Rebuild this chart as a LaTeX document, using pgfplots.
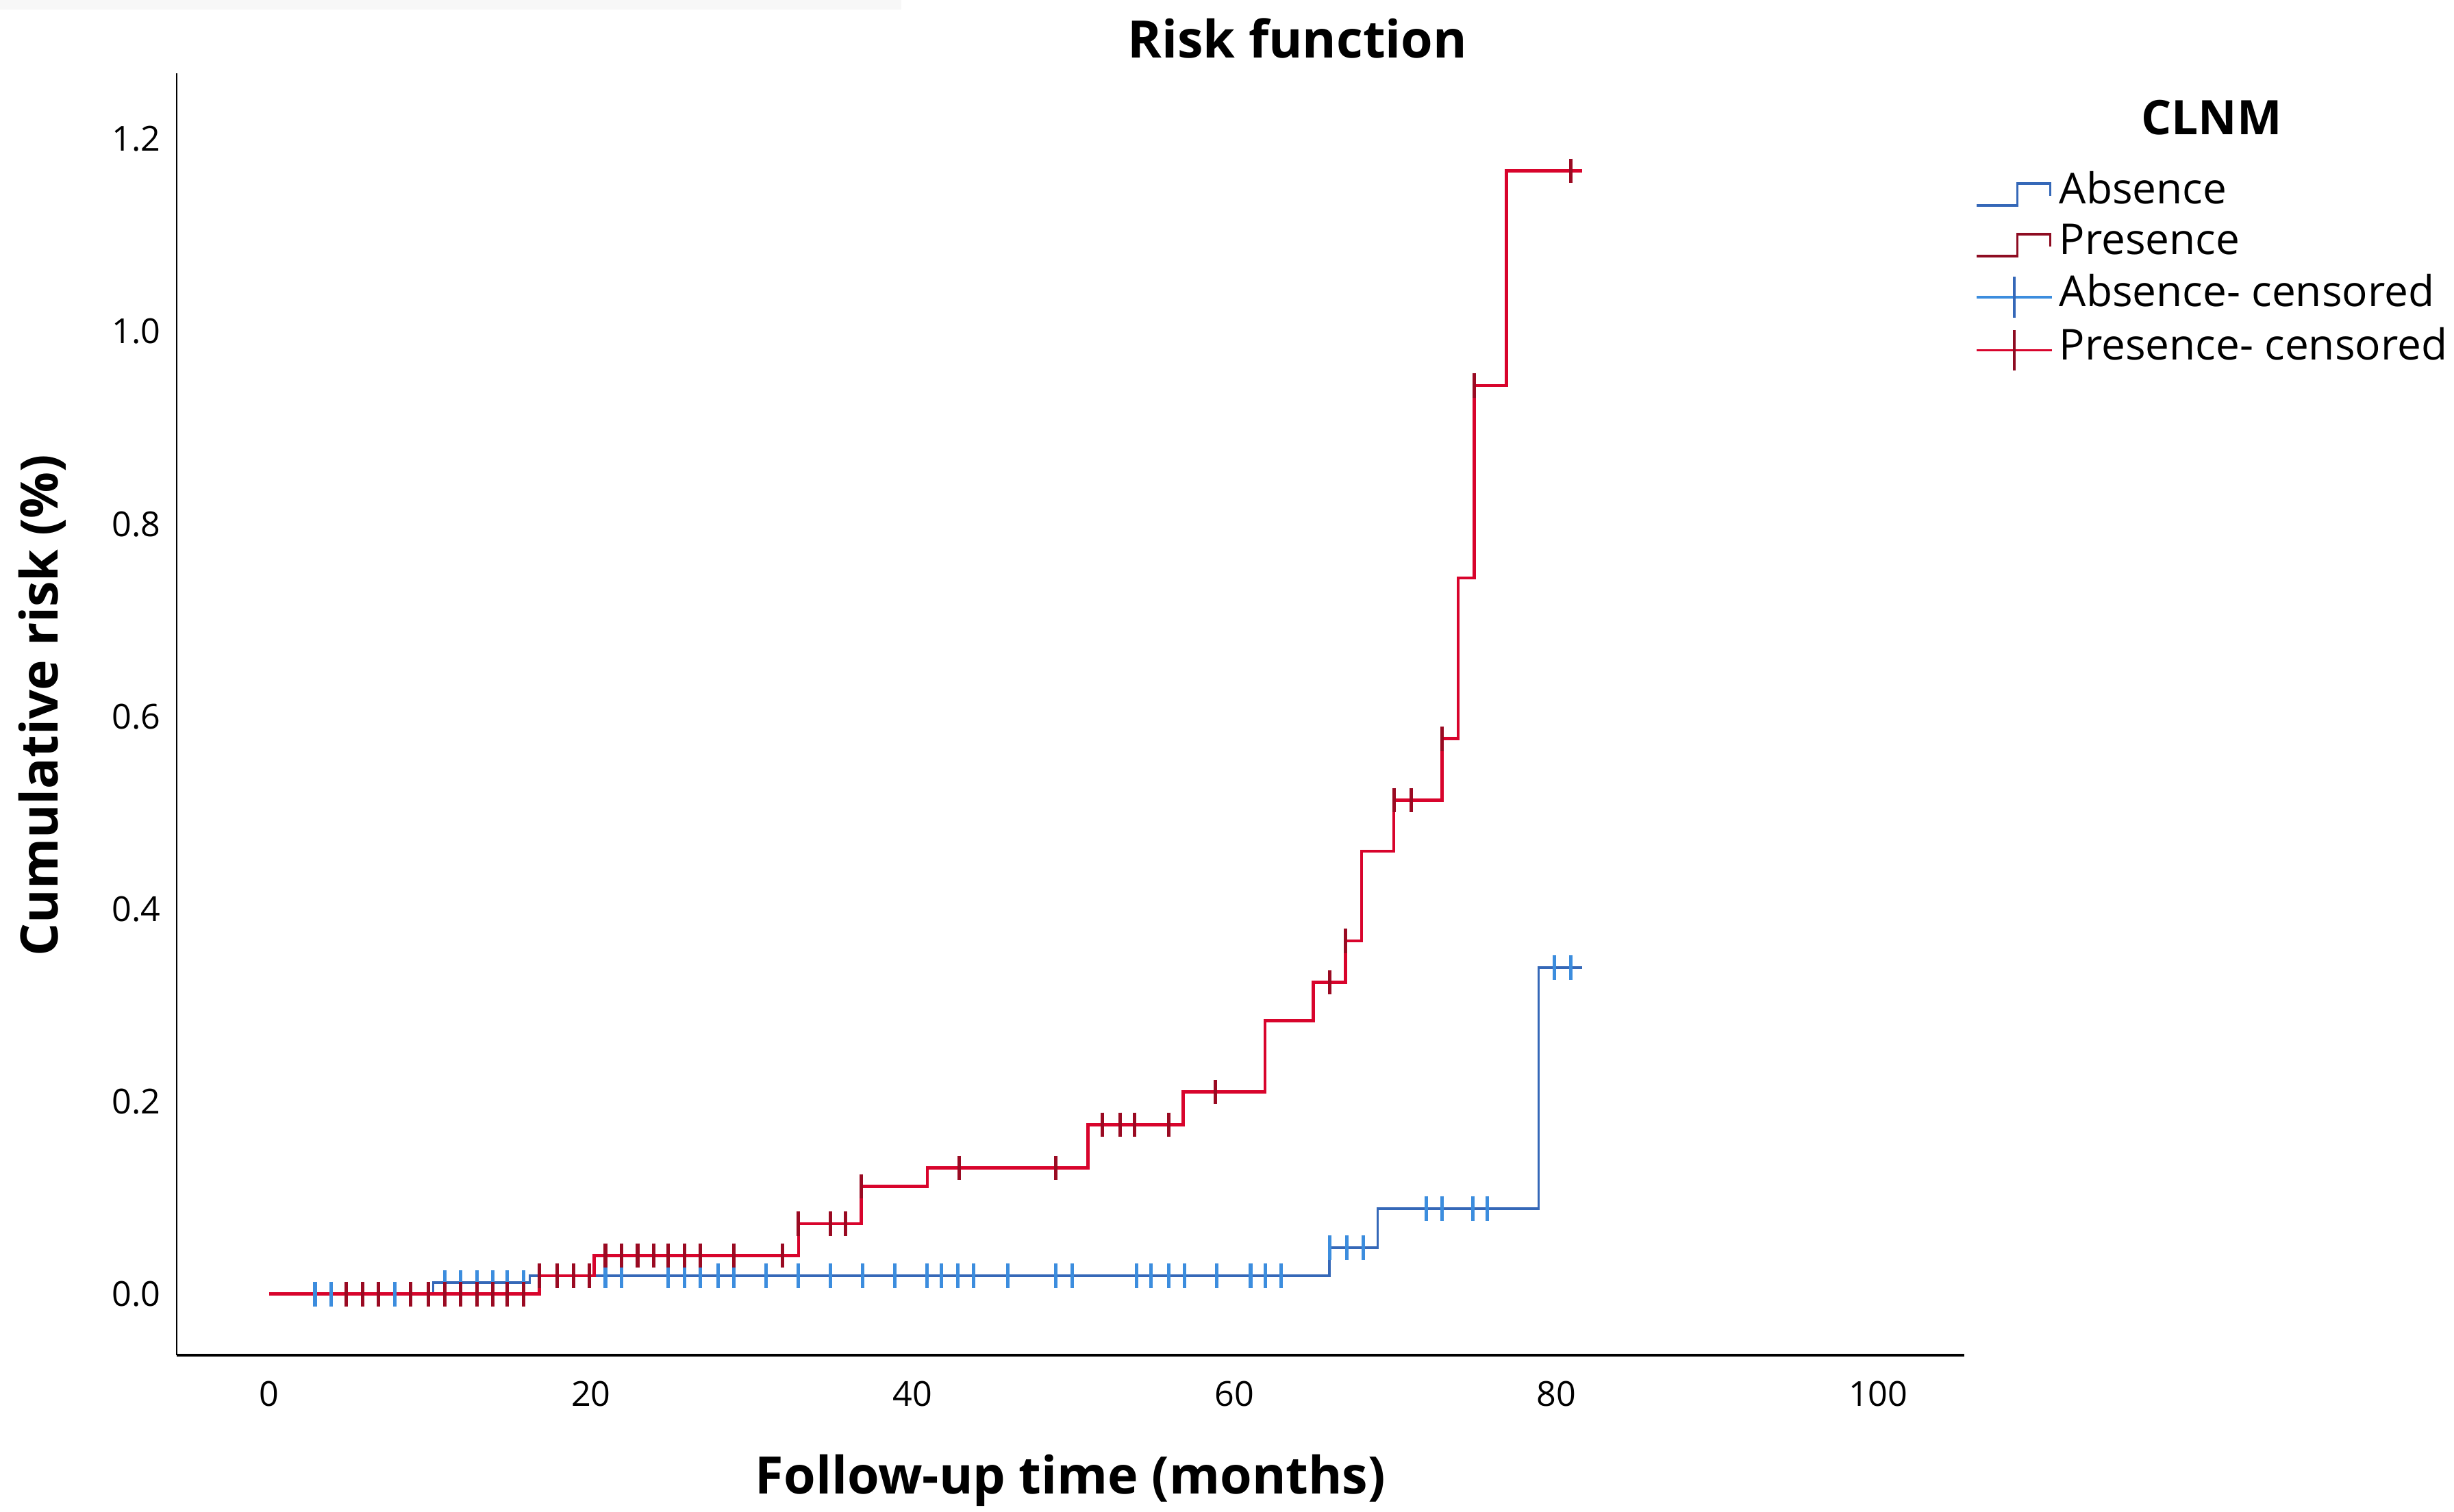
\documentclass[border=0pt]{standalone}
\usepackage{fontspec}
\setmainfont{Open Sans}
\usepackage{pgfplots}
\pgfplotsset{compat=1.18}
\definecolor{absline}{HTML}{3568B8}
\definecolor{absmark}{HTML}{3C8DDE}
\definecolor{preline}{HTML}{D8042C}
\definecolor{predark}{HTML}{8E0C22}
\definecolor{premark}{HTML}{9A0A22}
\begin{document}
\begin{tikzpicture}
\useasboundingbox (-56.5pt,-50pt) rectangle (727.5pt,433pt);
\fill[black!3] (-56.5pt,430pt) rectangle (231.5pt,433pt);
\begin{axis}[
  at={(0,0)}, anchor=south west,
  scale only axis, width=571pt, height=409.5pt,
  xmin=-5.74, xmax=105.35, ymin=-0.0634, ymax=1.268,
  axis x line*=bottom, axis y line*=left,
  x axis line style={line width=1pt, -},
  y axis line style={line width=0.5pt, -},
  xtick={0,20,40,60,80,100},
  ytick={0,0.2,0.4,0.6,0.8,1.0,1.2},
  major tick length=0pt,
  tick label style={font=\fontsize{11}{13}\selectfont},
  /pgf/number format/assume math mode=true,
  y tick label style={/pgf/number format/fixed, /pgf/number format/fixed zerofill, /pgf/number format/precision=1},
  yticklabel style={inner sep=0pt, anchor=east, xshift=-5pt},
  xticklabel style={inner sep=0pt, anchor=north, yshift=-8.25pt},
  xlabel={Follow-up time (months)},
  ylabel={Cumulative risk (\%)},
  xlabel style={font=\fontsize{16.5}{19}\selectfont\bfseries, at={(axis description cs:0.5,-0.0977)}, anchor=center, inner sep=0pt},
  ylabel style={font=\fontsize{16.5}{19}\selectfont\bfseries, at={(axis description cs:-0.0753,0.507)}, anchor=center, inner sep=0pt},
  title={Risk function},
  title style={font=\fontsize{16.5}{19}\selectfont\bfseries, at={(axis description cs:0.627,1.0287)}, anchor=center, inner sep=0pt, yshift=-6.5pt},
  clip=false,
  legend cell align=left,
  legend style={at={(axis description cs:1.006,0.922)}, anchor=north west, draw=none, fill=none,
    font=\fontsize{13.6}{16}\selectfont, inner sep=0pt, row sep=3.2pt,
    nodes={inner sep=0pt, text height=9.5pt, text depth=3.5pt},
    /tikz/every odd column/.append style={column sep=2pt}},
]
% Absence (step line)
\addplot[absline, line width=0.8pt, const plot mark left, mark=none,
  legend image code/.code={\draw[absline, line width=0.8pt] (0pt,-3.5pt) -- (13pt,-3.5pt) -- (13pt,3.5pt) -- (23.5pt,3.5pt) -- (23.5pt,-0.5pt);}]
  coordinates {(0,0) (10.2,0.012) (16.2,0.019) (65.9,0.048) (68.9,0.089) (78.9,0.339) (81.6,0.339)};
\addlegendentry{Absence}
% Presence (step line)
\addplot[preline, line width=1pt, const plot mark left, mark=none,
  legend image code/.code={\draw[predark, line width=0.8pt] (0pt,-3.5pt) -- (13pt,-3.5pt) -- (13pt,3.5pt) -- (23.5pt,3.5pt) -- (23.5pt,-0.5pt);}]
  coordinates {(0,0) (16.8,0.019) (20.2,0.040) (32.9,0.073) (36.8,0.112) (40.9,0.131) (50.9,0.176) (56.8,0.210) (61.9,0.284) (64.9,0.324) (66.9,0.367) (67.9,0.460) (69.9,0.513) (72.9,0.577) (73.9,0.744) (74.9,0.944) (76.9,1.167) (81.6,1.167)};
\addlegendentry{Presence}
% Absence censored
\addplot[only marks, mark=|, mark size=3.9pt, absmark, mark options={line width=1.1pt},
  legend image code/.code={\draw[absmark, line width=0.8pt] (0pt,0pt) -- (24pt,0pt); \draw[absline, line width=0.8pt] (12pt,-6.5pt) -- (12pt,6.5pt);}]
  coordinates {(2.85,0) (3.83,0) (7.8,0)
  (10.9,0.012) (11.9,0.012) (12.9,0.012) (13.9,0.012) (14.8,0.012) (15.8,0.012)
  (20.9,0.019) (21.9,0.019) (24.8,0.019) (25.8,0.019) (26.8,0.019) (27.9,0.019) (28.9,0.019) (30.9,0.019) (32.9,0.019) (34.9,0.019) (36.9,0.019) (38.9,0.019) (40.9,0.019) (41.8,0.019) (42.8,0.019) (43.8,0.019) (45.9,0.019) (48.9,0.019) (49.9,0.019) (53.9,0.019) (54.8,0.019) (55.9,0.019) (56.9,0.019) (58.9,0.019) (61.0,0.019) (61.9,0.019) (62.9,0.019)
  (65.9,0.048) (67.0,0.048) (68.0,0.048)
  (71.9,0.089) (72.9,0.089) (74.8,0.089) (75.7,0.089)
  (79.9,0.339) (80.9,0.339)};
\addlegendentry{Absence- censored}
% Presence censored
\addplot[only marks, mark=|, mark size=3.9pt, premark, mark options={line width=1.1pt},
  legend image code/.code={\draw[preline, line width=0.8pt] (0pt,0pt) -- (24pt,0pt); \draw[predark, line width=0.8pt] (12pt,-6.5pt) -- (12pt,6.5pt);}]
  coordinates {(4.8,0) (5.8,0) (6.8,0) (8.8,0) (9.9,0) (10.9,0) (11.9,0) (12.9,0) (13.9,0) (14.8,0) (15.8,0)
  (16.8,0.019) (17.9,0.019) (18.9,0.019) (19.9,0.019)
  (20.9,0.040) (21.9,0.040) (22.9,0.040) (23.9,0.040) (24.8,0.040) (25.8,0.040) (26.8,0.040) (28.9,0.040) (31.9,0.040)
  (32.9,0.073) (34.9,0.073) (35.8,0.073)
  (36.8,0.112)
  (42.9,0.131) (48.9,0.131)
  (51.8,0.176) (52.9,0.176) (53.8,0.176) (55.9,0.176)
  (58.8,0.210)
  (65.9,0.324) (66.9,0.367)
  (69.9,0.513) (71.0,0.513)
  (72.9,0.577) (74.9,0.944) (80.9,1.167)};
\addlegendentry{Presence- censored}
\node[font=\fontsize{15.2}{18}\selectfont\bfseries, anchor=center, inner sep=0pt] at (axis description cs:1.1384,0.9658) {CLNM};
\end{axis}
\end{tikzpicture}
\end{document}
